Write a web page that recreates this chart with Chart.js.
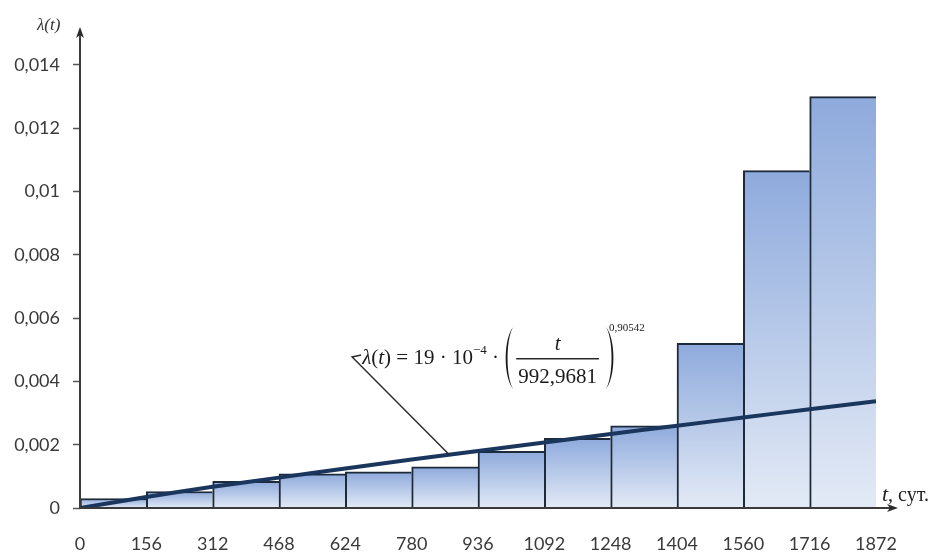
<!DOCTYPE html>
<html>
<head>
<meta charset="utf-8">
<script src="https://cdn.jsdelivr.net/npm/chart.js@4/dist/chart.umd.min.js"></script>
<style>
  html, body { margin: 0; padding: 0; background: #ffffff; }
  #wrap { width: 930px; height: 552px; }
</style>
</head>
<body>
<div id="wrap"><canvas id="chart" width="930" height="552"></canvas></div>
<script>
// Histogram of the failure rate by 156-day intervals
const binStarts = [0, 156, 312, 468, 624, 780, 936, 1092, 1248, 1404, 1560, 1716];
const binWidth = 156;
const failureRate = [0.0003, 0.00052, 0.00084, 0.00108, 0.00114, 0.0013, 0.00179, 0.0022, 0.0026, 0.0052, 0.01066, 0.013];

// Fitted curve λ(t) = 19·10^-4·(t/992,9681)^0,90542
const fitT = [0, 156, 312, 468, 624, 780, 936, 1092, 1248, 1404, 1560, 1716, 1872];
const fitLambda = [0, 0.00035, 0.00067, 0.00096, 0.00125, 0.00153, 0.0018, 0.00207, 0.00234, 0.0026, 0.00286, 0.00312, 0.00337];

// Axis ticks
const xTicks = [0, 156, 312, 468, 624, 780, 936, 1092, 1248, 1404, 1560, 1716, 1872];
const yTicks = [0, 0.002, 0.004, 0.006, 0.008, 0.01, 0.012, 0.014];
const yTickLabels = ['0', '0,002', '0,004', '0,006', '0,008', '0,01', '0,012', '0,014'];

// Callout: where the leader line starts and where it touches the curve (data units)
const calloutFrom = { t: 640, v: 0.00477 };
const calloutTo = { t: 868, v: 0.00169 };

const barData = binStarts.map((s, i) => ({ x: s + binWidth / 2, y: failureRate[i] }));
const lineData = fitT.map((t, i) => ({ x: t, y: fitLambda[i] }));

function barGradient(c) {
  const chart = c.chart;
  if (!chart.chartArea || !c.raw) return '#b4c7e7';
  const ys = chart.scales.y;
  const top = ys.getPixelForValue(c.raw.y);
  const base = ys.getPixelForValue(0);
  const g = chart.ctx.createLinearGradient(0, top, 0, base);
  g.addColorStop(0, '#8eaadc');
  g.addColorStop(1, '#e3eaf6');
  return g;
}

const SERIF = '"Liberation Serif", "DejaVu Serif", serif';
const SANS = 'Lato, "Open Sans", sans-serif';

function drawParen(ctx, x, top, bottom, dir) {
  // dir = 1 for "(" , -1 for ")"
  ctx.beginPath();
  ctx.moveTo(x, top);
  ctx.bezierCurveTo(x - dir * 10, top + 12, x - dir * 10, bottom - 12, x, bottom);
  ctx.bezierCurveTo(x - dir * 7.5, bottom - 12, x - dir * 7.5, top + 12, x, top);
  ctx.fill();
}

const decorations = {
  id: 'decorations',
  afterDatasetsDraw(chart) {
    const { ctx, chartArea: a, scales: { x, y } } = chart;
    ctx.save();

    // axis lines with arrow heads
    ctx.strokeStyle = '#3b3b3b';
    ctx.fillStyle = '#2a2a2a';
    ctx.lineWidth = 2;
    ctx.beginPath();
    ctx.moveTo(a.left, a.bottom + 1);
    ctx.lineTo(a.left, a.top + 6);
    ctx.moveTo(a.left - 1, a.bottom);
    ctx.lineTo(a.right + 14, a.bottom);
    ctx.stroke();

    ctx.beginPath();
    ctx.moveTo(a.left, a.top);
    ctx.lineTo(a.left - 4, a.top + 11);
    ctx.lineTo(a.left, a.top + 8);
    ctx.lineTo(a.left + 4, a.top + 11);
    ctx.closePath();
    ctx.fill();

    const xe = a.right + 22;
    ctx.beginPath();
    ctx.moveTo(xe, a.bottom);
    ctx.lineTo(xe - 11, a.bottom - 4);
    ctx.lineTo(xe - 8, a.bottom);
    ctx.lineTo(xe - 11, a.bottom + 4);
    ctx.closePath();
    ctx.fill();

    // axis titles
    ctx.fillStyle = '#333333';
    ctx.textBaseline = 'alphabetic';
    ctx.textAlign = 'left';
    ctx.font = 'italic 17px ' + SERIF;
    ctx.fillText('λ(t)', 37, 30);

    ctx.fillStyle = '#222222';
    ctx.font = 'italic 22px ' + SERIF;
    ctx.fillText('t', 882, 501);
    const tw = ctx.measureText('t').width;
    ctx.font = '20px ' + SERIF;
    ctx.fillText(', сут.', 882 + tw, 501);

    // leader line of the callout
    const sx = x.getPixelForValue(calloutFrom.t);
    const sy = y.getPixelForValue(calloutFrom.v);
    const ex = x.getPixelForValue(calloutTo.t);
    const ey = y.getPixelForValue(calloutTo.v);
    ctx.strokeStyle = '#2d2d2d';
    ctx.lineWidth = 1.5;
    ctx.beginPath();
    ctx.moveTo(sx + 9, sy - 2);
    ctx.lineTo(sx, sy);
    ctx.lineTo(ex, ey);
    ctx.stroke();

    // formula text
    ctx.fillStyle = '#1a1a1a';
    const base = sy + 7;
    let cx = sx + 10;
    const put = (txt, font, dy) => {
      ctx.font = font;
      ctx.fillText(txt, cx, base + (dy || 0));
      cx += ctx.measureText(txt).width;
    };
    const reg = '21px ' + SERIF, ital = 'italic 21px ' + SERIF;
    put('λ', ital);
    put('(', reg);
    put('t', ital);
    put(')', reg);
    put(' = 19 · 10', reg);
    put('−4', '13px ' + SERIF, -10);
    put(' · ', reg);

    // big parentheses around the fraction
    const pTop = base - 37, pBot = base + 25;
    cx += 9;
    drawParen(ctx, cx, pTop, pBot, 1);
    cx += 3;
    ctx.font = '21px ' + SERIF;
    const den = '992,9681';
    const dw = ctx.measureText(den).width;
    const fx = cx + 2;
    const fmid = fx + dw / 2;
    ctx.textAlign = 'center';
    ctx.fillText(den, fmid, base + 19);
    ctx.font = 'italic 21px ' + SERIF;
    ctx.fillText('t', fmid, base - 14);
    ctx.fillRect(fx - 2, base - 6, dw + 4, 1.4);
    ctx.textAlign = 'left';
    cx = fx + dw + 9;
    drawParen(ctx, cx, pTop, pBot, -1);
    cx += 3;
    ctx.font = '11px ' + SERIF;
    ctx.fillText('0,90542', cx, pTop + 4);

    ctx.restore();
  }
};

new Chart(document.getElementById('chart'), {
  type: 'bar',
  data: {
    datasets: [
      {
        type: 'line',
        data: lineData,
        borderColor: '#1b365d',
        borderWidth: 4,
        pointRadius: 0,
        tension: 0.2,
        order: 0
      },
      {
        type: 'bar',
        data: barData,
        backgroundColor: barGradient,
        borderColor: '#1d2a3a',
        borderWidth: { top: 2, left: 2, right: 0, bottom: 0 },
        borderSkipped: false,
        barPercentage: 1,
        categoryPercentage: 1,
        order: 1
      }
    ]
  },
  plugins: [decorations],
  options: {
    responsive: false,
    devicePixelRatio: 1,
    animation: false,
    layout: { padding: { top: 27, right: 54, left: 0, bottom: 0 } },
    plugins: { legend: { display: false }, tooltip: { enabled: false } },
    scales: {
      x: {
        type: 'linear',
        min: 0,
        max: 1872,
        offset: false,
        afterBuildTicks: s => { s.ticks = xTicks.map(v => ({ value: v })); },
        afterFit: s => { s.height = 44; },
        grid: { display: true, drawOnChartArea: false, drawTicks: false, offset: false },
        border: { display: false },
        ticks: {
          autoSkip: false,
          maxRotation: 0,
          padding: 25,
          color: '#3a3a3a',
          font: { family: SANS, size: 18 },
          callback: v => String(v)
        }
      },
      y: {
        min: 0,
        max: 0.0152,
        afterBuildTicks: s => { s.ticks = yTicks.map(v => ({ value: v })); },
        afterFit: s => { s.width = 80; },
        grid: { display: true, drawOnChartArea: false, drawTicks: true, tickLength: 7, tickColor: '#555555', tickWidth: 1.5 },
        border: { display: false },
        ticks: {
          padding: 13,
          color: '#3a3a3a',
          font: { family: SANS, size: 18 },
          callback: (v, i) => yTickLabels[i]
        }
      }
    }
  }
});
</script>
</body>
</html>
